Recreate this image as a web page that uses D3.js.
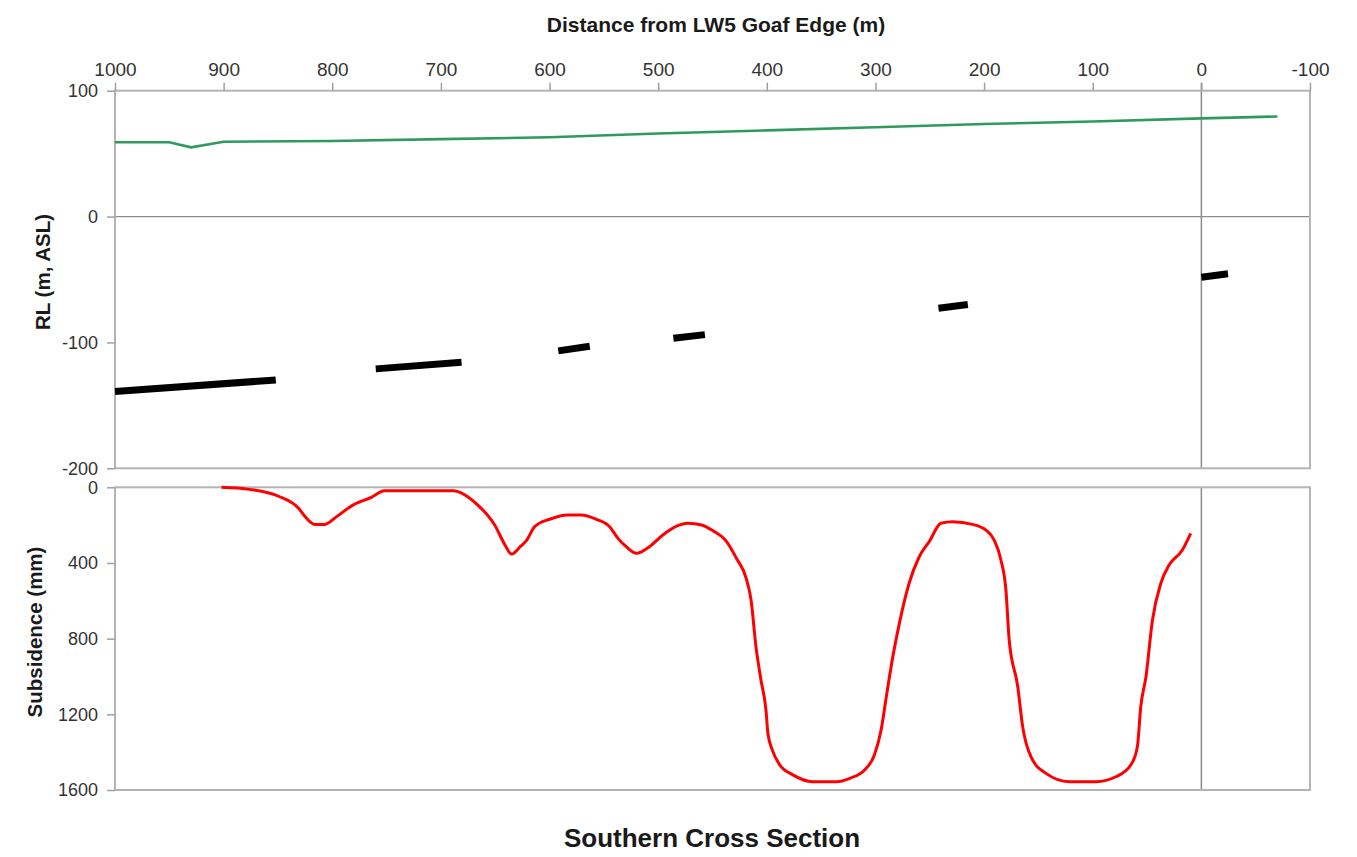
<!DOCTYPE html>
<html><head><meta charset="utf-8">
<script src="https://cdn.jsdelivr.net/npm/d3@7"></script>
<style>
body{margin:0;background:#fff;}
text{font-family:"Liberation Sans",Arial,sans-serif;}
</style></head>
<body>
<svg id="chart" width="1357" height="857"></svg>
<script>
// ---- data ----
const xTicks = [1000,900,800,700,600,500,400,300,200,100,0,-100];
const rlTicks = [100,0,-100,-200];
const subTicks = [0,400,800,1200,1600];

// surface profile (green)
const surfaceDist = [1000,950,930,900,800,700,600,500,400,300,200,100,0,-70];
const surfaceRL   = [59,59,55,59.5,60,61.5,63,66,68.5,71,73.5,75.5,78,79.5];

// seam segments (black, broken)
const seamStartDist = [1000,760,592,486,242,0];
const seamEndDist   = [852,681,563,457,215,-24.5];
const seamStartRL   = [-139,-121,-106.7,-96.7,-72.9,-48.2];
const seamEndRL     = [-129.8,-115.8,-103,-93.8,-69.9,-45.5];

// subsidence profile (red)
const subDist = [902,876,850,831,825,816,807,796,781,764,752,689,666,650.5,641,635,627,621,613.7,600,583,571,557,544.7,537,529.4,520,508,495.7,483,472.7,460,449.7,437,428,419,414.5,410,405.4,400.8,399,395,388,376,357.7,336,323.6,310,301,294.8,290,284,278,269,259.7,250.5,239.7,229,210.6,198.3,190.7,184.5,179.9,176.9,169,164.5,156.9,143,121.7,97,78.7,65,58.9,55.8,51,45,37.3,29.7,17.5,9.8];
const subMM   = [0,11,46,111,155,196,196,155,94,53,18,18,94,199,305,353,314,279,208,169,146,146,169,208,270,314,349,314,252,205,190,199,229,287,375,481,596,842,1018,1177,1300,1388,1468,1520,1556,1556,1538,1494,1415,1283,1107,895,719,507,367,287,190,182,196,226,279,384,543,807,1054,1265,1424,1512,1556,1556,1530,1468,1371,1160,1001,701,507,411,331,243];

// ---- layout ----
const svg = d3.select("#chart");
const L = 115, R = 1310;
const topT = 90.7, topB = 468.3;
const botT = 487.3, botB = 790;
const frameCol = "#b4b4b4", tickCol = "#a0a0a0", zeroCol = "#8c8c8c", txtCol = "#333";
const FONT = '"Liberation Sans",Arial,sans-serif';

const x = d3.scaleLinear().domain([1000,-100]).range([L,R]);
const yRL = d3.scaleLinear().domain([100,-200]).range([topT,topB]);
const ySub = d3.scaleLinear().domain([0,1600]).range([botT,botB]);

// zero lines
svg.append("line").attr("x1",L).attr("x2",R).attr("y1",yRL(0)).attr("y2",yRL(0))
  .attr("stroke",zeroCol).attr("stroke-width",1.3);
svg.append("line").attr("x1",x(0)).attr("x2",x(0)).attr("y1",topT-8).attr("y2",topB)
  .attr("stroke",zeroCol).attr("stroke-width",1.5);
svg.append("line").attr("x1",x(0)).attr("x2",x(0)).attr("y1",botT).attr("y2",botB)
  .attr("stroke",zeroCol).attr("stroke-width",1.5);

// frames
[[topT,topB],[botT,botB]].forEach(([t,b])=>{
  svg.append("rect").attr("x",L).attr("y",t).attr("width",R-L).attr("height",b-t)
    .attr("fill","none").attr("stroke",frameCol).attr("stroke-width",2);
});

function styleAxis(g, size){
  g.select(".domain").remove();
  g.selectAll(".tick line").attr("stroke",tickCol).attr("stroke-width",1.5);
  g.selectAll(".tick text").attr("fill",txtCol).attr("font-size",size)
   .style("font-family",FONT);
}
const fmt = d => String(d);

// top x axis
svg.append("g").attr("transform",`translate(0,${topT})`)
  .call(d3.axisTop(x).tickValues(xTicks).tickSize(8).tickPadding(7).tickFormat(fmt))
  .call(g=>styleAxis(g,19));

// left axes
svg.append("g").attr("transform",`translate(${L},0)`)
  .call(d3.axisLeft(yRL).tickValues(rlTicks).tickSize(8).tickPadding(9).tickFormat(fmt))
  .call(g=>styleAxis(g,18));
svg.append("g").attr("transform",`translate(${L},0)`)
  .call(d3.axisLeft(ySub).tickValues(subTicks).tickSize(8).tickPadding(9).tickFormat(fmt))
  .call(g=>styleAxis(g,18));

// surface line
const surf = surfaceDist.map((d,i)=>[d,surfaceRL[i]]);
svg.append("path").datum(surf)
  .attr("d",d3.line().x(d=>x(d[0])).y(d=>yRL(d[1])))
  .attr("fill","none").attr("stroke","#2e9a5e").attr("stroke-width",2.6);

// seam segments
seamStartDist.forEach((s,i)=>{
  svg.append("line")
    .attr("x1",x(s)).attr("y1",yRL(seamStartRL[i]))
    .attr("x2",x(seamEndDist[i])).attr("y2",yRL(seamEndRL[i]))
    .attr("stroke","#000").attr("stroke-width",7).attr("stroke-linecap","butt");
});

// subsidence line
const sub = subDist.map((d,i)=>[d,subMM[i]]);
svg.append("path").datum(sub)
  .attr("d",d3.line().curve(d3.curveMonotoneX).x(d=>x(d[0])).y(d=>ySub(d[1])))
  .attr("fill","none").attr("stroke","#ff0000").attr("stroke-width",3).attr("stroke-linejoin","round");

// titles
svg.append("text").attr("x",716).attr("y",32).attr("text-anchor","middle")
  .attr("font-size",21).attr("font-weight","bold").attr("fill","#1a1a1a")
  .text("Distance from LW5 Goaf Edge (m)");
svg.append("text").attr("transform",`translate(50,272) rotate(-90)`)
  .attr("text-anchor","middle").attr("font-size",20.5).attr("font-weight","bold").attr("fill","#1a1a1a")
  .text("RL (m, ASL)");
svg.append("text").attr("transform",`translate(42,632) rotate(-90)`)
  .attr("text-anchor","middle").attr("font-size",20.5).attr("font-weight","bold").attr("fill","#1a1a1a")
  .text("Subsidence (mm)");
svg.append("text").attr("x",712).attr("y",847).attr("text-anchor","middle")
  .attr("font-size",26).attr("font-weight","bold").attr("fill","#1a1a1a")
  .text("Southern Cross Section");
</script>
</body></html>
